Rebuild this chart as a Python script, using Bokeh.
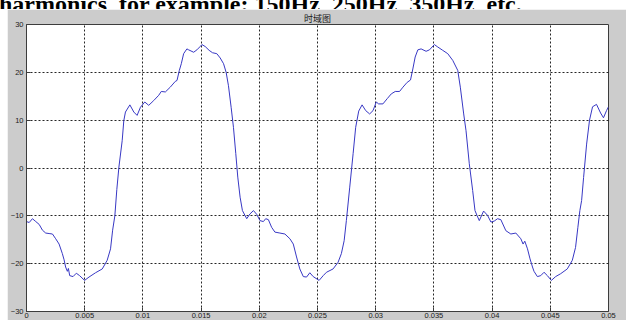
from bokeh.plotting import figure
from bokeh.layouts import column
from bokeh.models import Div, Range1d, FixedTicker, CustomJSTickFormatter
from bokeh.embed import file_html
from bokeh.resources import INLINE

# Caption line of the surrounding document (only its lower part shows)
caption = "harmonics, for example: 150Hz, 250Hz, 350Hz, etc."

title_text = "时域图"

# Sampled time-domain waveform: time (s) and amplitude
t = [0.0, 0.00023, 0.00051, 0.0008, 0.00109, 0.00137, 0.00165, 0.00194, 0.00223,
     0.00251, 0.0028, 0.00308, 0.00323, 0.00336, 0.00351, 0.0036, 0.00371, 0.004,
     0.00428, 0.00456, 0.00499, 0.00537, 0.00593, 0.00651, 0.00693, 0.00722, 0.0074,
     0.00759, 0.00776, 0.00794, 0.00822, 0.00836, 0.0085, 0.00888, 0.00922, 0.0095,
     0.00979, 0.01016, 0.0105, 0.01093, 0.01136, 0.01158, 0.01193, 0.01235, 0.01278,
     0.01293, 0.01313, 0.0133, 0.0135, 0.01378, 0.01393, 0.01436, 0.01464, 0.01492,
     0.01507, 0.01535, 0.01569, 0.01598, 0.01635, 0.01664, 0.01693, 0.01715, 0.01735,
     0.01758, 0.01778, 0.01798, 0.01815, 0.01835, 0.01855, 0.01892, 0.0192, 0.0195,
     0.01978, 0.02006, 0.02035, 0.02055, 0.02078, 0.02106, 0.02134, 0.02177, 0.0222,
     0.02263, 0.02292, 0.0232, 0.02348, 0.02378, 0.02406, 0.02434, 0.02463, 0.02514,
     0.02549, 0.02577, 0.02634, 0.02677, 0.02705, 0.02729, 0.02748, 0.02777, 0.02806,
     0.02828, 0.02854, 0.02883, 0.02914, 0.02948, 0.02977, 0.03005, 0.03025, 0.03062,
     0.03099, 0.03134, 0.03168, 0.03205, 0.03234, 0.0327, 0.03299, 0.03319, 0.03339,
     0.03362, 0.0339, 0.03433, 0.03462, 0.03504, 0.03533, 0.03576, 0.03619, 0.03662,
     0.03705, 0.03727, 0.03756, 0.03776, 0.03804, 0.03833, 0.03853, 0.0387, 0.0389,
     0.03927, 0.03961, 0.0399, 0.04018, 0.04047, 0.04075, 0.04118, 0.04161, 0.04204,
     0.04247, 0.04266, 0.04281, 0.04304, 0.04326, 0.04347, 0.0436, 0.04389, 0.04418,
     0.04446, 0.04475, 0.04509, 0.04546, 0.04589, 0.04646, 0.04689, 0.04717, 0.04737,
     0.04754, 0.04769, 0.04786, 0.04812, 0.04837, 0.04863, 0.04897, 0.04932, 0.04957,
     0.04983, 0.05]
amplitude = [-11.2, -11.4, -10.6, -11.2, -11.8, -13.0, -13.6, -13.7, -13.8,
             -14.8, -15.9, -17.9, -19.2, -20.7, -21.6, -21.0, -22.5, -22.7,
             -22.0, -22.5, -23.5, -22.8, -21.9, -21.1, -19.3, -16.9, -13.0,
             -10.0, -4.5, 0.2, 5.7, 9.9, 11.7, 13.2, 11.7, 11.0,
             12.7, 13.8, 13.1, 14.1, 15.2, 16.0, 15.9, 16.9, 18.1,
             18.3, 20.4, 21.8, 23.9, 24.9, 24.7, 24.2, 24.7, 25.4,
             25.8, 25.4, 24.6, 24.1, 23.9, 23.0, 21.8, 20.0, 17.2,
             12.7, 8.5, 3.0, -1.9, -6.1, -8.9, -10.6, -9.6, -8.9,
             -9.7, -11.0, -11.2, -10.6, -10.8, -12.4, -13.4, -13.6, -13.8,
             -14.8, -15.9, -18.6, -21.1, -22.7, -22.8, -21.9, -22.7, -23.5,
             -22.5, -21.8, -21.1, -19.7, -17.9, -15.2, -11.0, -4.0, 3.0,
             8.5, 11.9, 13.2, 12.0, 11.3, 12.0, 13.8, 13.4, 13.4,
             14.5, 15.5, 16.0, 16.0, 16.9, 17.9, 18.4, 20.7, 23.2,
             24.7, 24.9, 24.4, 24.7, 25.8, 25.3, 24.6, 23.9, 22.5,
             20.4, 16.9, 11.3, 7.8, 0.9, -4.7, -8.9, -9.9, -11.0,
             -9.0, -9.9, -11.3, -11.1, -10.6, -10.8, -13.1, -13.8, -13.6,
             -14.8, -15.9, -15.3, -16.9, -19.0, -20.7, -21.6, -22.7, -22.5,
             -21.8, -22.5, -23.5, -22.7, -22.1, -21.1, -19.3, -16.6, -12.4,
             -8.9, -6.8, -2.0, 5.0, 10.0, 12.8, 13.3, 11.5, 10.5,
             12.0, 12.8]

x_ticks = [0, 0.005, 0.01, 0.015, 0.02, 0.025, 0.03, 0.035, 0.04, 0.045, 0.05]
y_ticks = [-30, -20, -10, 0, 10, 20, 30]

FIG_GRAY = "#cccccc"
LABEL_FONT = "Liberation Sans"

header = Div(
    text=(f'<div style="font-family:\'Liberation Serif\',serif;font-size:24px;'
          f'font-weight:bold;line-height:24px;margin-top:-12px;margin-left:-1px;'
          f'white-space:nowrap;color:#000">{caption}</div>'),
    width=626, height=9, margin=0,
    styles={"overflow": "hidden"},
)

p = figure(
    width=619, height=311,
    x_range=Range1d(0, 0.05), y_range=Range1d(-30, 30),
    output_backend="svg", toolbar_location=None,
    min_border_left=17, min_border_right=18, min_border_top=15, min_border_bottom=8,
    background_fill_color="white", border_fill_color=FIG_GRAY,
    outline_line_color="#3c3c3c", outline_line_width=1,
    margin=(0, 0, 0, 7),
)

p.title.text = title_text
p.title.align = "center"
p.title.text_font = "Noto Sans CJK SC"
p.title.text_font_size = "9px"
p.title.text_font_style = "normal"
p.title.text_color = "#1a1a1a"
p.title.standoff = 0
p.title.offset = 0

p.line(t, amplitude, line_color="#3838c4", line_width=1)

p.xaxis.ticker = FixedTicker(ticks=x_ticks)
p.yaxis.ticker = FixedTicker(ticks=y_ticks)
p.xaxis.formatter = CustomJSTickFormatter(
    code="return tick.toFixed(3).replace(/0+$/, '').replace(/\\.$/, '');")

for ax in (p.xaxis[0], p.yaxis[0]):
    ax.axis_line_color = "#3c3c3c"
    ax.major_tick_line_color = "#3c3c3c"
    ax.major_tick_in = 4
    ax.major_tick_out = 0
    ax.minor_tick_line_color = None
    ax.major_label_text_font = LABEL_FONT
    ax.major_label_text_font_size = "7.5px"
    ax.major_label_text_color = "#1a1a1a"
p.xaxis.major_label_standoff = 1
p.yaxis.major_label_standoff = 3

for g in (p.xgrid[0], p.ygrid[0]):
    g.grid_line_color = "#000000"
    g.grid_line_alpha = 0.85
    g.grid_line_dash = "2 2"
    g.grid_line_width = 1

layout = column(header, p, spacing=0)
open("out.html", "w").write(file_html(layout, INLINE))
